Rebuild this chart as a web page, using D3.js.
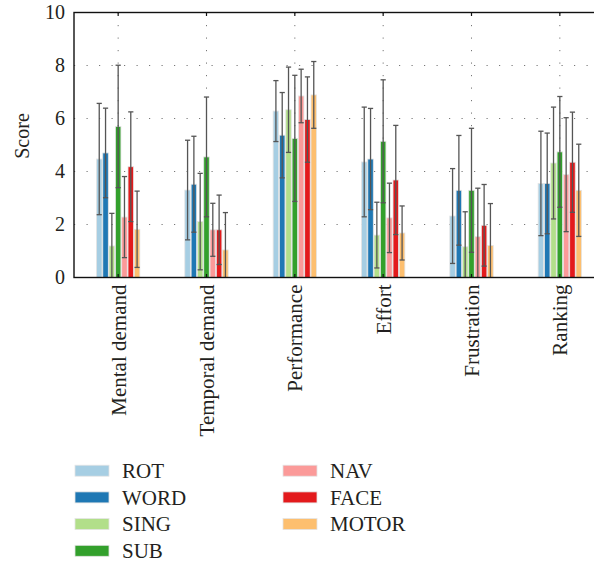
<!DOCTYPE html>
<html><head><meta charset="utf-8">
<script src="https://cdn.jsdelivr.net/npm/d3@7"></script>
<style>
html,body{margin:0;padding:0;background:#fff;}
svg text{font-family:"Liberation Serif","Times New Roman",serif;fill:#231f20;}
</style></head>
<body><svg id="chart" width="594" height="561"></svg>
<script>
const categories = ["Mental demand","Temporal demand","Performance","Effort","Frustration","Ranking"];
const series = ["ROT","WORD","SING","SUB","NAV","FACE","MOTOR"];
const colors = ["#a6cee3","#1f78b4","#b2df8a","#33a02c","#fb9a99","#e31a1c","#fdbf6f"];
const yTicks = [0,2,4,6,8,10];

const meanROT   = [4.47, 3.30, 6.28, 4.36, 2.32, 3.55];
const meanWORD  = [4.70, 3.52, 5.37, 4.47, 3.29, 3.55];
const meanSING  = [1.19, 2.11, 6.33, 1.60, 1.16, 4.32];
const meanSUB   = [5.70, 4.55, 5.25, 5.14, 3.29, 4.74];
const meanNAV   = [2.28, 1.80, 6.85, 2.25, 1.54, 3.88];
const meanFACE  = [4.18, 1.80, 5.96, 3.68, 1.97, 4.35];
const meanMOTOR = [1.82, 1.04, 6.89, 1.68, 1.21, 3.29];

const sdROT   = [2.10, 1.88, 1.15, 2.07, 1.79, 1.97];
const sdWORD  = [1.69, 1.81, 1.61, 1.91, 2.07, 1.90];
const sdSING  = [1.23, 1.82, 1.61, 1.24, 1.32, 2.11];
const sdSUB   = [2.31, 2.26, 2.38, 2.32, 2.34, 2.09];
const sdNAV   = [1.53, 1.00, 1.01, 1.31, 1.83, 2.15];
const sdFACE  = [2.07, 1.31, 1.61, 2.06, 1.54, 1.89];
const sdMOTOR = [1.44, 1.41, 1.26, 1.02, 1.58, 1.74];

const means = [meanROT, meanWORD, meanSING, meanSUB, meanNAV, meanFACE, meanMOTOR];
const sds = [sdROT, sdWORD, sdSING, sdSUB, sdNAV, sdFACE, sdMOTOR];

const svg = d3.select("#chart");
const L = 74, R = 604, T = 12.5, B = 277.5;

const x0 = d3.scaleBand().domain(categories).range([L, R]).paddingInner(0.5).paddingOuter(0.25);
const x1 = d3.scaleBand().domain(series).range([0, x0.bandwidth()]).padding(0);
const y = d3.scaleLinear().domain([0, 10]).range([B, T]);

// grid
const grid = svg.append("g");
grid.selectAll("line.h").data(yTicks.filter(d => d > 0 && d < 10)).join("line")
  .attr("x1", L).attr("x2", R).attr("y1", d => y(d)).attr("y2", d => y(d))
  .attr("stroke", "#777").attr("stroke-width", 1).attr("stroke-dasharray", "1.2,11.3");
grid.selectAll("line.v").data(categories).join("line")
  .attr("x1", d => x0(d) + x0.bandwidth()/2).attr("x2", d => x0(d) + x0.bandwidth()/2)
  .attr("y1", T).attr("y2", B)
  .attr("stroke", "#777").attr("stroke-width", 1).attr("stroke-dasharray", "1.2,11.3");

// bars
const rows = [];
series.forEach((s, si) => categories.forEach((c, ci) => rows.push({s, si, c, m: means[si][ci], sd: sds[si][ci]})));

const bw = x1.bandwidth();
svg.append("g").selectAll("rect").data(rows).join("rect")
  .attr("x", d => x0(d.c) + x1(d.s) + 0.4)
  .attr("width", bw - 0.8)
  .attr("y", d => y(d.m))
  .attr("height", d => y(0) - y(d.m))
  .attr("fill", d => colors[d.si])
  .attr("stroke", "#e4e4e4").attr("stroke-width", 0.8);

// error bars
const eg = svg.append("g").attr("stroke", "#555").attr("stroke-width", 1.3);
rows.forEach(d => {
  const cx = x0(d.c) + x1(d.s) + bw/2;
  const hi = d.m + d.sd, lo = Math.max(0, d.m - d.sd);
  eg.append("line").attr("x1", cx).attr("x2", cx).attr("y1", y(hi)).attr("y2", y(lo));
  eg.append("line").attr("x1", cx - 2.6).attr("x2", cx + 2.6).attr("y1", y(hi)).attr("y2", y(hi));
  if (lo > 0) eg.append("line").attr("x1", cx - 2.6).attr("x2", cx + 2.6).attr("y1", y(lo)).attr("y2", y(lo));
});

// frame
svg.append("rect").attr("x", L).attr("y", T).attr("width", R - L).attr("height", B - T)
  .attr("fill", "none").attr("stroke", "#111").attr("stroke-width", 1.4);

// top/bottom ticks
const tk = svg.append("g").attr("stroke", "#111").attr("stroke-width", 1.2);
categories.forEach(c => {
  const cx = x0(c) + x0.bandwidth()/2;
  tk.append("line").attr("x1", cx).attr("x2", cx).attr("y1", T).attr("y2", T + 3.5);
  tk.append("line").attr("x1", cx).attr("x2", cx).attr("y1", B).attr("y2", B - 3.5);
});

// y axis labels
const yAxis = d3.axisLeft(y).tickValues(yTicks).tickSize(0).tickPadding(0);
const ya = svg.append("g").attr("transform", `translate(${L - 9},0)`).call(yAxis);
ya.select(".domain").remove();
ya.selectAll("text").attr("font-family", "Liberation Serif").attr("font-size", 20).attr("fill", "#231f20");

svg.append("text").attr("transform", `translate(22,136) rotate(-90)`)
  .attr("text-anchor", "middle").attr("dy", "0.35em").attr("font-size", 20).text("Score");

// category labels
svg.append("g").selectAll("text").data(categories).join("text")
  .attr("transform", d => `translate(${x0(d) + x0.bandwidth()/2},${B + 7}) rotate(-90)`)
  .attr("text-anchor", "end").attr("dy", "0.35em").attr("font-size", 21).text(d => d);

// legend
const lg = svg.append("g");
series.forEach((s, i) => {
  const col = i < 4 ? 0 : 1, row = i < 4 ? i : i - 4;
  const lx = col === 0 ? 75 : 283, ly = 470.7 + row * 26.7;
  lg.append("rect").attr("x", lx).attr("y", ly - 5.5).attr("width", 34).attr("height", 11)
    .attr("fill", colors[i]).attr("stroke", "#e4e4e4").attr("stroke-width", 0.8);
  lg.append("text").attr("x", lx + 47).attr("y", ly).attr("dy", "0.35em").attr("font-size", 21).text(s);
});
</script></body></html>
